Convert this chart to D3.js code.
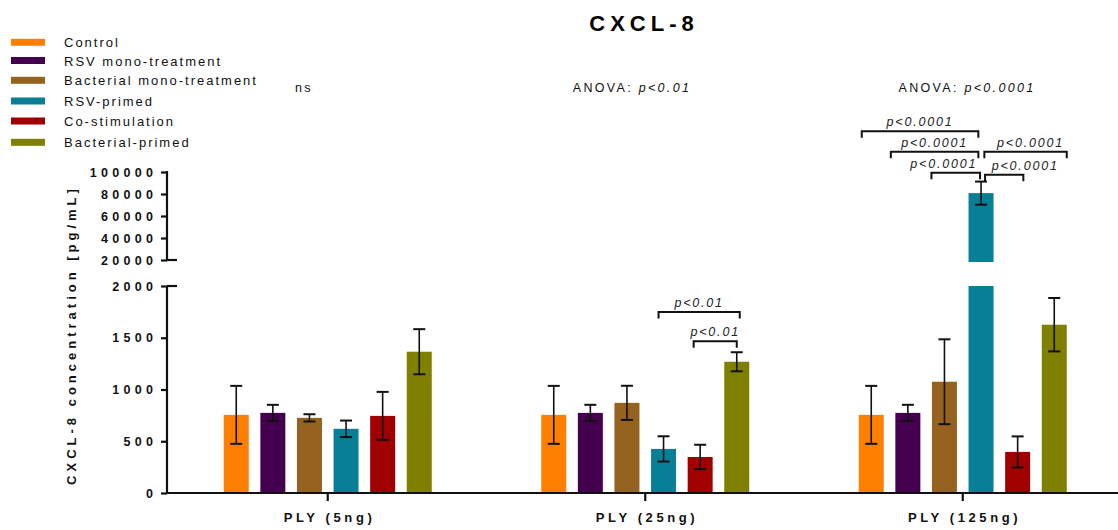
<!DOCTYPE html>
<html><head><meta charset="utf-8">
<script src="https://cdn.jsdelivr.net/npm/d3@7"></script>
<style>html,body{margin:0;padding:0;background:#fff;}svg{display:block;font-family:Arial,"Liberation Sans",sans-serif;}</style>
</head><body><svg id="c" width="1118" height="530"></svg>
<script>
// ---------- DATA ----------
const groups = ["PLY (5ng)", "PLY (25ng)", "PLY (125ng)"];
const seriesNames = ["Control", "RSV mono-treatment", "Bacterial mono-treatment", "RSV-primed", "Co-stimulation", "Bacterial-primed"];
const controlMean = [755, 755, 755];
const controlErr = [280, 280, 280];
const rsvMonoMean = [774, 774, 774];
const rsvMonoErr = [78, 78, 78];
const bactMonoMean = [726, 871, 1075];
const bactMonoErr = [35, 165, 410];
const rsvPrimedMean = [620, 426, 80800];
const rsvPrimedErr = [80, 122, 10500];
const coStimMean = [745, 348, 397];
const coStimErr = [232, 118, 150];
const bactPrimedMean = [1365, 1268, 1626];
const bactPrimedErr = [218, 92, 258];
const lowerTicks = [0, 500, 1000, 1500, 2000];
const upperTicks = [20000, 40000, 60000, 80000, 100000];
const anovaPrefix = ["ns", "ANOVA: ", "ANOVA: "];
const anovaP = ["", "p<0.01", "p<0.0001"];
// comparisons: group index, from series, to series, label, bracket level (value)
const compGroup = [1, 1, 2, 2, 2, 2, 2];
const compFrom = [3, 4, 0, 1, 3, 2, 3];
const compTo = [5, 5, 3, 3, 5, 3, 4];
const compLabel = ["p<0.01", "p<0.01", "p<0.0001", "p<0.0001", "p<0.0001", "p<0.0001", "p<0.0001"];
const compLevel = [1749, 1465, 137000, 118500, 118500, 99300, 97500];

// ---------- LAYOUT / STYLE ----------
const colors = ["#FF8000", "#44004F", "#956220", "#087F97", "#A00000", "#808000"];
const compDx = [[-5, 3], [-6.5, 0], [-9.5, -2.7], [-17, -2.7], [3.3, 12.5], [-13, -1], [4, 5.7]];
const compLabelDx = [0, 0, 0, 0, 5, -12, 21];
const anovaCx = [304, 632, 967];

const svg = d3.select("#c");
const ink = "#111";
const means = [controlMean, rsvMonoMean, bactMonoMean, rsvPrimedMean, coStimMean, bactPrimedMean];
const errs = [controlErr, rsvMonoErr, bactMonoErr, rsvPrimedErr, coStimErr, bactPrimedErr];

const x0 = d3.scaleBand().domain(groups).range([169, 1121.5]).padding(0);
const innerW = 219.6;
const x1 = d3.scaleBand().domain(seriesNames)
  .range([(x0.bandwidth() - innerW) / 2, (x0.bandwidth() + innerW) / 2])
  .paddingInner(0.317).paddingOuter(0.1585);
const yLow = d3.scaleLinear().domain([0, 2000]).range([493, 286]);
const yUp = d3.scaleLinear().domain([20000, 100000]).range([260, 172]);
const yMap = v => v <= 2000 ? yLow(v) : yUp(v);
const cx = (g, s) => x0(groups[g]) + x1(seriesNames[s]) + x1.bandwidth() / 2;

// title
svg.append("text").attr("x", 644).attr("y", 31).attr("text-anchor", "middle")
  .attr("font-size", 22).attr("font-weight", "bold").attr("letter-spacing", 5).text("CXCL-8");

// legend
seriesNames.forEach((n, i) => {
  const yy = [42.3, 60.5, 80.3, 101, 121, 142.3][i];
  svg.append("rect").attr("x", 11).attr("y", yy - 3.5).attr("width", 34).attr("height", 7).attr("fill", colors[i]);
  svg.append("text").attr("x", 64).attr("y", yy + 5).attr("font-size", 13).attr("letter-spacing", 2).attr("fill", "#111").text(n);
});

// bars
groups.forEach((g, gi) => {
  seriesNames.forEach((s, si) => {
    const v = means[si][gi];
    const bx = x0(g) + x1(s);
    const bw = x1.bandwidth();
    const vl = Math.min(v, 2000);
    svg.append("rect").attr("x", bx).attr("y", yLow(vl)).attr("width", bw).attr("height", yLow(0) - yLow(vl)).attr("fill", colors[si]);
    if (v > 20000) {
      svg.append("rect").attr("x", bx).attr("y", yUp(v)).attr("width", bw).attr("height", yUp(20000) - yUp(v) + 2).attr("fill", colors[si]);
    }
    const e = errs[si][gi];
    const c = bx + bw / 2;
    const yt = yMap(v + e), yb = yMap(v - e);
    const eg = svg.append("g").attr("stroke", ink).attr("stroke-width", 1.6);
    eg.append("line").attr("x1", c).attr("x2", c).attr("y1", yt).attr("y2", yb);
    eg.append("line").attr("x1", c - 6).attr("x2", c + 6).attr("y1", yt).attr("y2", yt).attr("stroke-width", 2);
    eg.append("line").attr("x1", c - 6).attr("x2", c + 6).attr("y1", yb).attr("y2", yb).attr("stroke-width", 2);
  });
});

// axes
const axG = svg.append("g").attr("stroke", ink).attr("stroke-width", 2.2);
axG.append("line").attr("x1", 167).attr("x2", 167).attr("y1", yLow(0) + 1).attr("y2", yLow(2000));
axG.append("line").attr("x1", 167).attr("x2", 167).attr("y1", yUp(20000)).attr("y2", yUp(100000) - 1);
axG.append("line").attr("x1", 166).attr("x2", 1118).attr("y1", yLow(0)).attr("y2", yLow(0));
axG.append("line").attr("x1", 167).attr("x2", 177).attr("y1", yLow(2000)).attr("y2", yLow(2000));
axG.append("line").attr("x1", 167).attr("x2", 177).attr("y1", yUp(20000)).attr("y2", yUp(20000));

function styleAxis(sel) {
  sel.select(".domain").remove();
  sel.selectAll(".tick line").attr("stroke", ink).attr("stroke-width", 2.2);
  sel.selectAll(".tick text").attr("fill", ink).attr("font-size", 12.5).attr("font-weight", "bold")
    .attr("letter-spacing", 4.3).attr("dx", 4.3).attr("font-family", "Arial, 'Liberation Sans', sans-serif");
}
svg.append("g").attr("transform", "translate(167,0)")
  .call(d3.axisLeft(yLow).tickValues(lowerTicks).tickSize(6).tickSizeOuter(0).tickPadding(8).tickFormat(d3.format("d")))
  .call(styleAxis);
svg.append("g").attr("transform", "translate(167,0)")
  .call(d3.axisLeft(yUp).tickValues(upperTicks).tickSize(6).tickSizeOuter(0).tickPadding(8).tickFormat(d3.format("d")))
  .call(styleAxis);

const xAx = svg.append("g").attr("transform", `translate(0,${yLow(0)})`)
  .call(d3.axisBottom(x0).tickSize(8).tickSizeOuter(0).tickPadding(12));
xAx.select(".domain").remove();
xAx.selectAll(".tick line").attr("stroke", ink).attr("stroke-width", 2.2);
xAx.selectAll(".tick text").attr("fill", ink).attr("font-size", 13).attr("font-weight", "bold")
  .attr("letter-spacing", 3.6).attr("dx", 1.8).attr("font-family", "Arial, 'Liberation Sans', sans-serif");

// y title
svg.append("text").attr("transform", "translate(76,335) rotate(-90)").attr("text-anchor", "middle")
  .attr("font-size", 13).attr("font-weight", "bold").attr("letter-spacing", 4).attr("fill", ink)
  .text("CXCL-8 concentration [pg/mL]");

// ANOVA labels
groups.forEach((g, gi) => {
  const t = svg.append("text").attr("x", anovaCx[gi]).attr("y", 92).attr("text-anchor", "middle")
    .attr("font-size", 12.5).attr("letter-spacing", 2.3).attr("fill", "#111");
  t.append("tspan").text(anovaPrefix[gi]);
  if (anovaP[gi]) t.append("tspan").attr("font-style", "italic").text(anovaP[gi]);
});

// comparison brackets
compGroup.forEach((gi, k) => {
  const xa = cx(gi, compFrom[k]) + compDx[k][0];
  const xb = cx(gi, compTo[k]) + compDx[k][1];
  const yy = yMap(compLevel[k]);
  svg.append("path").attr("d", `M${xa},${yy + 6.5}V${yy}H${xb}V${yy + 6.5}`)
    .attr("fill", "none").attr("stroke", ink).attr("stroke-width", 2);
  svg.append("text").attr("x", (xa + xb) / 2 + compLabelDx[k]).attr("y", yy - 5).attr("text-anchor", "middle")
    .attr("font-size", 12.5).attr("font-style", "italic").attr("letter-spacing", 1.8).attr("fill", "#222")
    .text(compLabel[k]);
});
</script></body></html>
